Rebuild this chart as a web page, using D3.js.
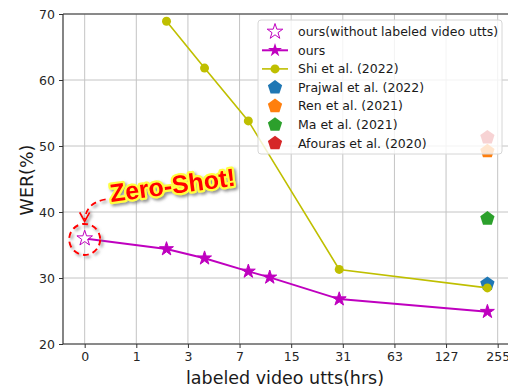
<!DOCTYPE html>
<html>
<head>
<meta charset="utf-8">
<script src="https://cdn.jsdelivr.net/npm/d3@7"></script>
<style>
  body { margin: 0; background: #fff; }
  text { font-family: "DejaVu Sans", sans-serif; }
</style>
</head>
<body>
<svg id="chart" width="508" height="388"></svg>
<script>
// hours of labeled video, WER(%)
const zeroShot = { hrs: 0, wer: 36.0 };
const oursHrs = [0, 2, 4, 8, 11, 29.5, 222];
const oursWer = [36.0, 34.4, 33.0, 31.0, 30.1, 26.8, 24.9];
const shiHrs = [2, 4, 8, 29.5, 222];
const shiWer = [68.9, 61.8, 53.8, 31.3, 28.5];
const others = [
  { name: "Prajwal et al. (2022)", hrs: 222, wer: 29.1, color: "#1f77b4" },
  { name: "Ren et al. (2021)", hrs: 222, wer: 49.2, color: "#ff7f0e" },
  { name: "Ma et al. (2021)", hrs: 222, wer: 39.0, color: "#2ca02c" },
  { name: "Afouras et al. (2020)", hrs: 222, wer: 51.3, color: "#d62728" }
];
const xTicks = [0, 1, 3, 7, 15, 31, 63, 127, 255];
const yTicks = [20, 30, 40, 50, 60, 70];

const svg = d3.select("#chart");
const L = 63, R = 508, T = 14, B = 344;

// x axis is log2(hrs + 1)
const x = d3.scaleLog().base(2).domain([Math.pow(2, -0.42), Math.pow(2, 8.2)]).range([L, R]);
const xp = h => x(h + 1);
const y = d3.scaleLinear().domain([20, 70]).range([B, T]);

const defs = svg.append("defs");
const sh = defs.append("filter").attr("id", "shadow").attr("x", "-20%").attr("y", "-40%").attr("width", "150%").attr("height", "180%");
sh.append("feDropShadow").attr("dx", 2).attr("dy", 2).attr("stdDeviation", 1.5)
  .attr("flood-color", "#777").attr("flood-opacity", 0.8);

// grid
svg.append("g").selectAll("line").data(xTicks).join("line")
  .attr("x1", d => xp(d)).attr("x2", d => xp(d)).attr("y1", T).attr("y2", B)
  .attr("stroke", "#c4c4c4").attr("stroke-width", 1);
svg.append("g").selectAll("line").data(yTicks).join("line")
  .attr("x1", L).attr("x2", R).attr("y1", d => y(d)).attr("y2", d => y(d))
  .attr("stroke", "#c4c4c4").attr("stroke-width", 1);

// axes
const xAxis = svg.append("g").attr("transform", `translate(0,${B})`)
  .call(d3.axisBottom(x).tickValues(xTicks.map(d => d + 1)).tickFormat(d => d - 1).tickSize(4).tickPadding(4));
const yAxis = svg.append("g").attr("transform", `translate(${L},0)`)
  .call(d3.axisLeft(y).tickValues(yTicks).tickSize(4).tickPadding(4));
[xAxis, yAxis].forEach(g => {
  g.select(".domain").remove();
  g.selectAll("line").attr("stroke", "#333");
  g.selectAll("text").attr("font-size", 12.5).attr("fill", "#262626");
});
// spines
svg.append("line").attr("x1", L).attr("x2", L).attr("y1", T).attr("y2", B).attr("stroke", "#333").attr("stroke-width", 1.2);
svg.append("line").attr("x1", L).attr("x2", R).attr("y1", B).attr("y2", B).attr("stroke", "#333").attr("stroke-width", 1.2);
svg.append("line").attr("x1", L).attr("x2", R).attr("y1", T).attr("y2", T).attr("stroke", "#333").attr("stroke-width", 1.2);

svg.append("text").attr("x", 285).attr("y", 384).attr("text-anchor", "middle")
  .attr("font-size", 17.5).attr("fill", "#1a1a1a").text("labeled video utts(hrs)");
svg.append("text").attr("transform", `translate(33,180) rotate(-90)`).attr("text-anchor", "middle")
  .attr("font-size", 17.5).attr("fill", "#1a1a1a").text("WER(%)");

const pentagon = r => {
  const pts = d3.range(5).map(i => {
    const a = -Math.PI / 2 + i * 2 * Math.PI / 5;
    return [r * Math.cos(a), r * Math.sin(a)];
  });
  return "M" + pts.map(p => p.join(",")).join("L") + "Z";
};
const star = d3.symbol().type(d3.symbolStar).size(60);
const starOpen = d3.symbol().type(d3.symbolStar).size(75);

// other methods
svg.append("g").selectAll("path").data(others).join("path")
  .attr("transform", d => `translate(${xp(d.hrs)},${y(d.wer)})`)
  .attr("d", pentagon(7.5)).attr("fill", d => d.color);

// Shi et al.
const shi = shiHrs.map((h, i) => [h, shiWer[i]]);
const line = d3.line().x(d => xp(d[0])).y(d => y(d[1]));
svg.append("path").attr("d", line(shi)).attr("fill", "none").attr("stroke", "#bfbf00").attr("stroke-width", 1.6);
svg.append("g").selectAll("circle").data(shi).join("circle")
  .attr("cx", d => xp(d[0])).attr("cy", d => y(d[1])).attr("r", 4.5).attr("fill", "#bfbf00");

// ours
const ours = oursHrs.map((h, i) => [h, oursWer[i]]);
svg.append("path").attr("d", line(ours)).attr("fill", "none").attr("stroke", "#bf00bf").attr("stroke-width", 2);
svg.append("g").selectAll("path").data(ours.slice(1)).join("path")
  .attr("transform", d => `translate(${xp(d[0])},${y(d[1])})`)
  .attr("d", star).attr("fill", "#bf00bf").attr("stroke", "#bf00bf").attr("stroke-width", 1);
svg.append("path")
  .attr("transform", `translate(${xp(zeroShot.hrs)},${y(zeroShot.wer)})`)
  .attr("d", starOpen).attr("fill", "#fff").attr("stroke", "#bf00bf").attr("stroke-width", 1);

// zero-shot annotation
const zx = xp(zeroShot.hrs), zy = y(zeroShot.wer) + 1;
const ann = svg.append("g").attr("filter", "url(#shadow)");
ann.append("circle").attr("cx", zx).attr("cy", zy).attr("r", 15.5)
  .attr("fill", "none").attr("stroke", "#f00").attr("stroke-width", 2).attr("stroke-dasharray", "6,4");
ann.append("path").attr("d", `M${zx + 21},${zy - 40} Q${zx + 2},${zy - 37} ${zx},${zy - 20}`)
  .attr("fill", "none").attr("stroke", "#f00").attr("stroke-width", 1.8).attr("stroke-dasharray", "6,4");
ann.append("path").attr("d", `M${zx - 5},${zy - 27} L${zx},${zy - 18} L${zx + 5},${zy - 27}`)
  .attr("fill", "none").attr("stroke", "#f00").attr("stroke-width", 1.8);
ann.append("text").attr("transform", `translate(111,202) rotate(-7.5)`)
  .style("font-family", "'Liberation Sans', Arial, sans-serif")
  .attr("font-size", 25).attr("font-weight", "bold").attr("fill", "#f00")
  .attr("stroke", "#ffff40").attr("stroke-width", 4.5).attr("paint-order", "stroke")
  .attr("stroke-linejoin", "round").text("Zero-Shot!");

// legend
const lg = svg.append("g").attr("transform", "translate(258,20)");
lg.append("rect").attr("width", 244).attr("height", 134).attr("rx", 3)
  .attr("fill", "#fff").attr("fill-opacity", 0.8).attr("stroke", "#d6d6d6");
const items = [
  { label: "ours(without labeled video utts)", kind: "open" },
  { label: "ours", kind: "star" },
  { label: "Shi et al. (2022)", kind: "circle" }
].concat(others.map(d => ({ label: d.name, kind: "pent", color: d.color })));
items.forEach((it, i) => {
  const g = lg.append("g").attr("transform", `translate(0,${11.7 + i * 18.6})`);
  const cx = 17;
  if (it.kind === "open") {
    g.append("path").attr("transform", `translate(${cx},0)`).attr("d", starOpen)
      .attr("fill", "#fff").attr("stroke", "#bf00bf");
  } else if (it.kind === "star") {
    g.append("line").attr("x1", 4).attr("x2", 30).attr("stroke", "#bf00bf").attr("stroke-width", 2);
    g.append("path").attr("transform", `translate(${cx},0)`).attr("d", star).attr("fill", "#bf00bf");
  } else if (it.kind === "circle") {
    g.append("line").attr("x1", 4).attr("x2", 30).attr("stroke", "#bfbf00").attr("stroke-width", 1.6);
    g.append("circle").attr("cx", cx).attr("r", 4.5).attr("fill", "#bfbf00");
  } else {
    g.append("path").attr("transform", `translate(${cx},0)`).attr("d", pentagon(7.5)).attr("fill", it.color);
  }
  g.append("text").attr("x", 40).attr("dy", "0.35em").attr("font-size", 12.5)
    .attr("fill", "#1a1a1a").text(it.label);
});
</script>
</body>
</html>
